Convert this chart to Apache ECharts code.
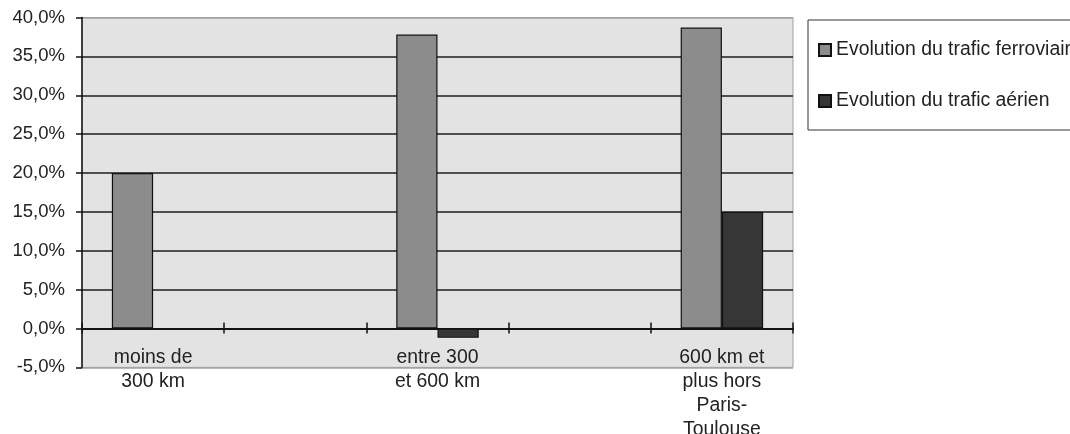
<!DOCTYPE html>
<html>
<head>
<meta charset="utf-8">
<script src="https://cdn.jsdelivr.net/npm/echarts@6/dist/echarts.min.js"></script>
<style>
html,body{margin:0;padding:0;background:#fff;}
#chart{width:1070px;height:434px;}
</style>
</head>
<body>
<div id="chart"></div>
<script>
var categories = ['moins de\n300 km', '', 'entre 300\net 600 km', '', '600 km et\nplus hors\nParis-\nToulouse'];
var seriesNames = ['Evolution du trafic ferroviaire', 'Evolution du trafic aérien'];
var ferroviaire = [20.0, null, 37.8, null, 38.7];
var aerien = [null, null, -1.2, null, 15.0];
var yMin = -5, yMax = 40, yStep = 5;

var font = '"Liberation Sans", Arial, sans-serif';
var chart = echarts.init(document.getElementById('chart'), null, {renderer: 'canvas'});
var splitColors = [];
for (var v = yMin; v <= yMax; v += yStep) {
  splitColors.push((v === yMin || v === yMax) ? '#a0a0a0' : '#1e1e1e');
}
chart.setOption({
  animation: false,
  backgroundColor: '#ffffff',
  grid: {
    left: 82, right: 277, top: 17.5, bottom: 66.6,
    containLabel: false, outerBoundsMode: 'none',
    show: true, backgroundColor: '#e3e3e3', borderColor: '#a0a0a0', borderWidth: 1
  },
  legend: {
    orient: 'vertical',
    left: 808, top: 20,
    padding: [19, 40, 18, 10],
    itemGap: 29,
    itemWidth: 12, itemHeight: 12,
    itemTextGap: 4,
    icon: 'rect',
    borderColor: '#333', borderWidth: 1,
    textStyle: {fontFamily: font, fontSize: 19.4, color: '#222', lineHeight: 22},
    data: seriesNames
  },
  xAxis: [{
    type: 'category',
    data: categories,
    axisLine: {onZero: true, onZeroAxisIndex: 0, lineStyle: {color: '#111', width: 1.5}},
    axisTick: {show: true, length: 5, lineStyle: {color: '#111', width: 1.5}},
    axisLabel: {interval: 0, margin: -22, fontFamily: font, fontSize: 19.4, color: '#222', lineHeight: 24},
    splitLine: {show: false}
  }, {
    type: 'category',
    data: categories,
    position: 'bottom',
    axisLine: {onZero: true, onZeroAxisIndex: 0, lineStyle: {color: '#111', width: 1.5}},
    axisTick: {show: true, inside: true, length: 6, lineStyle: {color: '#111', width: 1.5}},
    axisLabel: {show: false},
    splitLine: {show: false}
  }],
  yAxis: {
    type: 'value',
    min: yMin, max: yMax, interval: yStep,
    axisLine: {show: true, lineStyle: {color: '#111', width: 1.5}},
    axisTick: {show: true, length: 6, lineStyle: {color: '#111', width: 1.5}},
    axisLabel: {
      margin: 17, fontFamily: font, fontSize: 18.5, color: '#222',
      formatter: function (val) { return val.toFixed(1).replace('.', ',') + '%'; }
    },
    splitLine: {show: true, lineStyle: {color: splitColors, width: 1.5}}
  },
  series: [{
    name: seriesNames[0],
    type: 'bar',
    xAxisIndex: 0,
    data: ferroviaire,
    barGap: '0%',
    barCategoryGap: '42%',
    itemStyle: {color: '#8c8c8c', borderColor: '#111', borderWidth: 1.2}
  }, {
    name: seriesNames[1],
    type: 'bar',
    xAxisIndex: 0,
    data: aerien,
    barGap: '0%',
    barCategoryGap: '42%',
    itemStyle: {color: '#363636', borderColor: '#111', borderWidth: 1.2}
  }]
});
</script>
</body>
</html>
